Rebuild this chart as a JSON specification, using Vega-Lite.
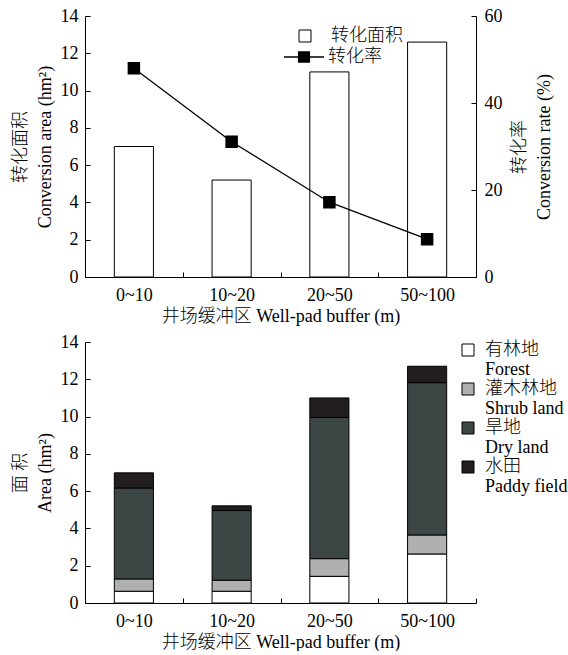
{
  "$schema": "https://vega.github.io/schema/vega-lite/v6.json",
  "padding": {"left": 11, "top": 7, "right": 0, "bottom": 0},
  "config": {
    "font": "Liberation Serif, Noto Sans CJK SC",
    "view": {"stroke": null},
    "concat": {"spacing": 8},
    "axis": {
      "labelFont": "Liberation Serif, Noto Sans CJK SC",
      "titleFont": "Liberation Serif, Noto Sans CJK SC",
      "labelFontSize": 18,
      "titleFontSize": 18,
      "titleFontWeight": 300,
      "labelColor": "black",
      "titleColor": "black",
      "domainColor": "black",
      "tickColor": "black",
      "domainWidth": 1,
      "tickWidth": 1,
      "tickSize": -5,
      "grid": false,
      "titleLineHeight": 25
    },
    "legend": {
      "labelFont": "Liberation Serif, Noto Sans CJK SC",
      "labelFontSize": 18,
      "labelFontWeight": 300,
      "labelColor": "black"
    }
  },
  "vconcat": [
    {
      "width": 391,
      "height": 261,
      "data": {"values": [
        {"buffer": "0~10", "area": 7.0, "rate": 48.0},
        {"buffer": "10~20", "area": 5.2, "rate": 31.1},
        {"buffer": "20~50", "area": 11.0, "rate": 17.2},
        {"buffer": "50~100", "area": 12.6, "rate": 8.7}
      ]},
      "encoding": {
        "x": {
          "field": "buffer", "type": "nominal", "sort": null,
          "scale": {"paddingInner": 0, "paddingOuter": 0},
          "axis": {"labelAngle": 0, "tickBand": "extent", "labelPadding": 14, "titlePadding": 3, "title": "井场缓冲区 Well-pad buffer (m)"}
        }
      },
      "layer": [
        {
          "mark": {"type": "bar", "width": {"band": 0.4}, "stroke": "black", "strokeWidth": 1},
          "encoding": {
            "y": {
              "field": "area", "type": "quantitative",
              "scale": {"domain": [0, 14]},
              "axis": {"values": [0, 2, 4, 6, 8, 10, 12, 14], "labelPadding": 12, "titlePadding": 6, "title": ["转化面积", "Conversion area (hm²)"]}
            },
            "fill": {
              "datum": "转化面积", "type": "nominal",
              "scale": {"range": ["white"]},
              "legend": {"orient": "none", "legendX": 211, "legendY": 11, "title": null, "symbolType": "square", "symbolSize": 144, "symbolStrokeColor": "black", "symbolStrokeWidth": 1, "labelOffset": 17}
            }
          }
        },
        {
          "mark": {"type": "line", "color": "black", "strokeWidth": 1.3, "point": {"shape": "square", "size": 110, "filled": true, "color": "black"}},
          "encoding": {
            "y": {
              "field": "rate", "type": "quantitative",
              "scale": {"domain": [0, 60]},
              "axis": {"orient": "right", "values": [0, 20, 40, 60], "labelPadding": 13, "titlePadding": 1, "titleAngle": 270, "title": ["转化率", "Conversion rate (%)"]}
            },
            "stroke": {
              "datum": "转化率", "type": "nominal",
              "scale": {"range": ["black"]},
              "legend": {
                "orient": "none", "legendX": 198, "legendY": 20, "title": null,
                "symbolType": "M-1,0H1M-0.27,-0.25H0.27V0.25H-0.27Z",
                "symbolSize": 1600, "symbolStrokeWidth": 1.3, "labelOffset": 3,
                "symbolFillColor": "black",
                "encode": {"symbols": {"update": {"fill": {"value": "black"}, "stroke": {"value": "black"}}}}
              }
            }
          }
        }
      ],
      "resolve": {"scale": {"y": "independent"}}
    },
    {
      "width": 391,
      "height": 261,
      "data": {"values": [
        {"buffer": "0~10", "type": "有林地\nForest", "k": 1, "area": 0.63},
        {"buffer": "0~10", "type": "灌木林地\nShrub land", "k": 2, "area": 0.66},
        {"buffer": "0~10", "type": "旱地\nDry land", "k": 3, "area": 4.88},
        {"buffer": "0~10", "type": "水田\nPaddy field", "k": 4, "area": 0.81},
        {"buffer": "10~20", "type": "有林地\nForest", "k": 1, "area": 0.63},
        {"buffer": "10~20", "type": "灌木林地\nShrub land", "k": 2, "area": 0.59},
        {"buffer": "10~20", "type": "旱地\nDry land", "k": 3, "area": 3.74},
        {"buffer": "10~20", "type": "水田\nPaddy field", "k": 4, "area": 0.25},
        {"buffer": "20~50", "type": "有林地\nForest", "k": 1, "area": 1.43},
        {"buffer": "20~50", "type": "灌木林地\nShrub land", "k": 2, "area": 0.95},
        {"buffer": "20~50", "type": "旱地\nDry land", "k": 3, "area": 7.57},
        {"buffer": "20~50", "type": "水田\nPaddy field", "k": 4, "area": 1.05},
        {"buffer": "50~100", "type": "有林地\nForest", "k": 1, "area": 2.63},
        {"buffer": "50~100", "type": "灌木林地\nShrub land", "k": 2, "area": 1.02},
        {"buffer": "50~100", "type": "旱地\nDry land", "k": 3, "area": 8.17},
        {"buffer": "50~100", "type": "水田\nPaddy field", "k": 4, "area": 0.88}
      ]},
      "mark": {"type": "bar", "width": {"band": 0.4}, "stroke": "black", "strokeWidth": 1},
      "encoding": {
        "x": {
          "field": "buffer", "type": "nominal", "sort": null,
          "scale": {"paddingInner": 0, "paddingOuter": 0},
          "axis": {"labelAngle": 0, "tickBand": "extent", "labelPadding": 14, "titlePadding": 3, "title": "井场缓冲区 Well-pad buffer (m)"}
        },
        "y": {
          "field": "area", "type": "quantitative", "stack": "zero",
          "scale": {"domain": [0, 14]},
          "axis": {"values": [0, 2, 4, 6, 8, 10, 12, 14], "labelPadding": 12, "titlePadding": 6, "title": ["面 积", "Area (hm²)"]}
        },
        "color": {
          "field": "type", "type": "nominal",
          "scale": {
            "domain": ["有林地\nForest", "灌木林地\nShrub land", "旱地\nDry land", "水田\nPaddy field"],
            "range": ["#ffffff", "#b0b0b0", "#3c4644", "#221e1f"]
          },
          "legend": {
            "orient": "none", "legendX": 374, "legendY": 325, "title": null,
            "symbolType": "square", "symbolSize": 144, "symbolStrokeColor": "black", "symbolStrokeWidth": 1,
            "labelOffset": 8, "labelLineHeight": 19, "rowPadding": 1,
            "labelExpr": "split(datum.label, '\\n')"
          }
        },
        "order": {"field": "k", "type": "quantitative"}
      }
    }
  ]
}
